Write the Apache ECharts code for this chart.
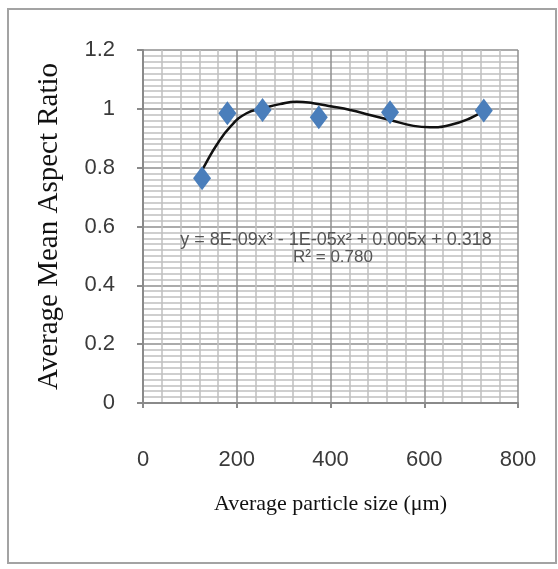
<!DOCTYPE html>
<html>
<head>
<meta charset="utf-8">
<title>Average Mean Aspect Ratio</title>
<script src="https://cdn.jsdelivr.net/npm/echarts@6/dist/echarts.min.js"></script>
<style>
	html, body { margin: 0; padding: 0; background: #fff; }
	#chart { width: 558px; height: 569px; }
</style>
</head>
<body>
<div id="chart"></div>
<script>
	// 数据点 (粒径, 长宽比)
	var sizes = [126, 180, 255, 375, 527, 727];
	var ratios = [0.764, 0.985, 0.996, 0.971, 0.988, 0.994];

	// 趋势线
	var trendX = [126, 132, 157, 186, 221, 257, 292, 328, 363, 403, 442, 484, 527, 577, 612, 655, 698, 727];
	var trendY = [0.792, 0.809, 0.877, 0.939, 0.985, 1.002, 1.016, 1.024, 1.019, 1.008, 0.996, 0.979, 0.962, 0.942, 0.937, 0.945, 0.968, 0.994];

	var xTicks = [0, 200, 400, 600, 800];
	var yTicks = [0, 0.2, 0.4, 0.6, 0.8, 1, 1.2];

	var eqText = "y = 8E-09x\u00b3 - 1E-05x\u00b2 + 0.005x + 0.318";
	var r2Text = "R\u00b2 = 0.780";

	var numFont = "'Liberation Sans', 'DejaVu Sans', sans-serif";
	var serifFont = "'Liberation Serif', 'DejaVu Serif', serif";

	var pts = sizes.map(function(x, i) { return [x, ratios[i]]; });
	var trend = trendX.map(function(x, i) { return [x, trendY[i]]; });

	var chart = echarts.init(document.getElementById("chart"));

	var option = {
		backgroundColor: '#fff',
		animation: false,
		grid: { left: 143, top: 50, width: 375, height: 353 },
		graphic: [
			{   //外框
				type: 'rect',
				shape: { x: 8, y: 9, width: 548, height: 554 },
				style: { fill: 'none', stroke: '#a3a3a3', lineWidth: 2 }
			},
			{   //趋势线公式
				type: 'text', x: 336, y: 240, z: 10,
				style: { text: eqText, font: '18px ' + numFont, fill: '#555', align: 'center', verticalAlign: 'middle' }
			},
			{
				type: 'text', x: 333, y: 257, z: 10,
				style: { text: r2Text, font: '17px ' + numFont, fill: '#555', align: 'center', verticalAlign: 'middle' }
			}
		],
		xAxis: {
			type: 'value',
			min: xTicks[0],
			max: xTicks[xTicks.length - 1],
			interval: 200,
			name: 'Average particle size (\u03bcm)',
			nameLocation: 'middle',
			nameGap: 90,
			nameTextStyle: { fontFamily: serifFont, fontSize: 22, color: '#111' },
			axisLine: { show: true, lineStyle: { color: '#8a8a8a', width: 2 } },
			axisTick: { show: true, length: 5, lineStyle: { color: '#8a8a8a', width: 2 } },
			axisLabel: { margin: 46, fontFamily: numFont, fontSize: 22, color: '#3a3a3a' },
			splitLine: { show: true, lineStyle: { color: '#8f8f8f', width: 1.5 } },
			minorTick: { show: false, splitNumber: 5 },
			minorSplitLine: { show: true, lineStyle: { color: '#c0c0c0', width: 1.5 } }
		},
		yAxis: {
			type: 'value',
			min: yTicks[0],
			max: yTicks[yTicks.length - 1],
			interval: 0.2,
			name: 'Average Mean Aspect Ratio',
			nameLocation: 'middle',
			nameGap: 79,
			nameTextStyle: { fontFamily: serifFont, fontSize: 29, color: '#111' },
			axisLine: { show: true, lineStyle: { color: '#8a8a8a', width: 2 } },
			axisTick: { show: true, length: 6, lineStyle: { color: '#8a8a8a', width: 2 } },
			axisLabel: { margin: 28, fontFamily: numFont, fontSize: 22, color: '#3a3a3a' },
			splitLine: { show: true, lineStyle: { color: '#8f8f8f', width: 1.5 } },
			minorTick: { show: false, splitNumber: 10 },
			minorSplitLine: { show: true, lineStyle: { color: '#c0c0c0', width: 1.5 } }
		},
		series: [
			{
				name: 'trend',
				type: 'line',
				data: trend,
				smooth: 0.5,
				showSymbol: false,
				symbol: 'none',
				lineStyle: { color: '#111', width: 2.5 },
				z: 3
			},
			{
				name: 'ratio',
				type: 'scatter',
				data: pts,
				symbol: 'diamond',
				symbolSize: [18, 24],
				itemStyle: { color: '#4a7ebb', opacity: 1 },
				z: 4
			}
		]
	};

	chart.setOption(option);
</script>
</body>
</html>
